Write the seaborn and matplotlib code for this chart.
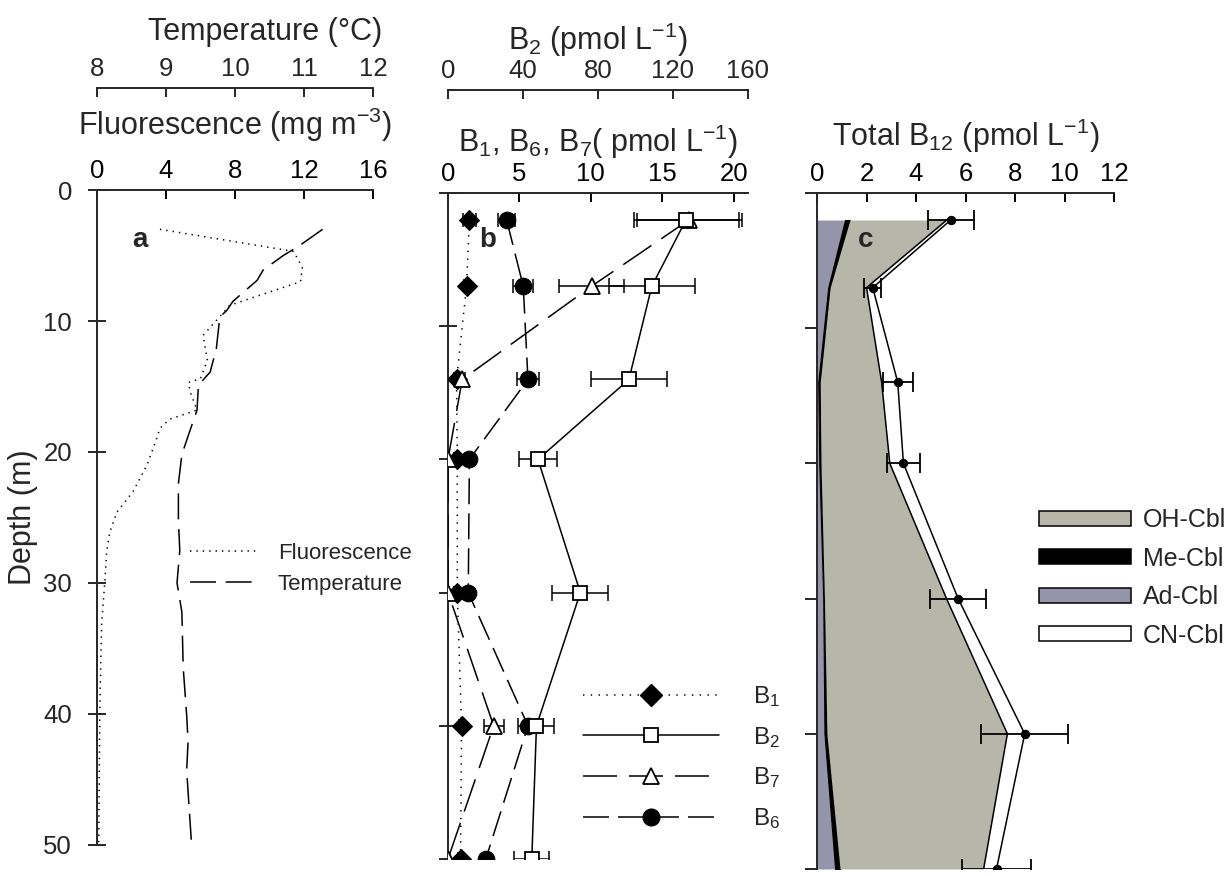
import numpy as np
import pandas as pd
import matplotlib.pyplot as plt
import seaborn as sns
from matplotlib.lines import Line2D
from matplotlib.patches import Patch

sns.set_style('ticks')
plt.rcParams['font.family'] = ['Liberation Sans', 'DejaVu Sans']
plt.rcParams['mathtext.fontset'] = 'custom'
plt.rcParams['mathtext.rm'] = 'Liberation Sans'
plt.rcParams['mathtext.it'] = 'Liberation Sans:italic'
plt.rcParams['mathtext.bf'] = 'Liberation Sans:bold'
plt.rcParams['lines.scale_dashes'] = False
plt.rcParams['axes.linewidth'] = 1.4

# --- panel a: CTD profiles ---
fluo_depth = [3.0, 4.6, 4.7, 5.9, 7.0, 8.8, 9.4, 11.1, 13.0, 14.4, 14.7, 15.4, 16.8,
              17.5, 18.2, 19.2, 21.0, 23.0, 24.6, 26.1, 27.5, 30.0, 33.1, 39.2, 49.9]
fluo = [3.65, 11.0, 11.4, 11.9, 11.8, 7.7, 7.3, 6.15, 6.4, 6.0, 5.3, 5.4, 5.8,
        4.2, 3.65, 3.4, 2.9, 2.1, 1.15, 0.75, 0.57, 0.45, 0.27, 0.17, 0.1]
temp_depth = [3.0, 4.3, 5.0, 6.1, 6.9, 8.5, 9.2, 9.7, 12.1, 13.9, 14.9, 16.8, 19.1,
              20.2, 22.4, 25.2, 27.5, 30.0, 32.2, 36.5, 40.1, 42.1, 44.3, 49.9]
temp = [11.27, 10.92, 10.70, 10.41, 10.32, 9.97, 9.88, 9.78, 9.73, 9.64, 9.47, 9.45, 9.30,
        9.23, 9.18, 9.18, 9.20, 9.16, 9.23, 9.25, 9.30, 9.32, 9.30, 9.37]

# --- panel b: B vitamins ---
depths = [2, 7, 14, 20, 30, 40, 50]
b1 = [1.5, 1.3, 0.6, 0.65, 0.65, 0.95, 0.88]
b1_err = [0.45, 0.2, 0.2, 0.2, 0.2, 0.2, 0.2]
b2 = [127, 108.7, 96.5, 48.0, 70.6, 47.2, 44.7]
b2_err = [28, 22.8, 20.3, 10, 15, 9.6, 9.3]
b7 = [16.9, 10.05, 1.0, 0.0, 0.0, 3.2, 0.0]
b7_err = [3.7, 2.26, 0.2, 0.1, 0.1, 0.7, 0.1]
b6 = [4.1, 5.27, 5.6, 1.5, 1.42, 5.6, 2.65]
b6_err = [0.6, 0.7, 0.77, 0.2, 0.2, 0.3, 0.2]

# --- panel c: B12 forms ---
ad_cbl = [1.13, 0.45, 0.05, 0.09, 0.25, 0.30, 0.73]
me_cbl = [0.20, 0.08, 0.08, 0.07, 0.05, 0.10, 0.20]
oh_cbl = [3.91, 1.47, 2.48, 2.78, 4.93, 7.29, 5.80]
cn_cbl = [0.16, 0.25, 0.65, 0.55, 0.47, 0.70, 0.52]
total_err = [0.93, 0.34, 0.6, 0.67, 1.13, 1.75, 1.4]

oh_color = '#b6b6a9'
ad_color = '#9494ab'
FS_TICK = 18.5
FS_TITLE = 22

fig = plt.figure(figsize=(12.29, 8.76), dpi=100)
ax_a = fig.add_axes([0.0789, 0.0354, 0.2246, 0.7477])
ax_b = fig.add_axes([0.3645, 0.0194, 0.2441, 0.7603])
ax_c = fig.add_axes([0.6648, 0.0080, 0.2417, 0.7717])


def style_main(ax, ydir, ylabels):
    for s in ['right', 'bottom']:
        ax.spines[s].set_visible(False)
    ax.set_ylim(50, 0)
    ax.set_yticks([0, 10, 20, 30, 40, 50])
    ax.xaxis.tick_top()
    ax.xaxis.set_label_position('top')
    ax.tick_params(axis='x', direction='in', length=6.5, width=1.4, pad=5,
                   labelsize=FS_TICK, colors='k', top=True, bottom=False,
                   labeltop=True, labelbottom=False)
    ax.tick_params(axis='y', direction=ydir, length=13 if ydir == 'inout' else 8.5,
                   width=1.4, pad=11.5, labelsize=FS_TICK, labelleft=ylabels)
    ax.grid(False)


def style_twin(ax, outward):
    for s in ['left', 'right', 'bottom']:
        ax.spines[s].set_visible(False)
    ax.spines['top'].set_position(('outward', outward))
    ax.tick_params(axis='x', direction='in', length=6.5, width=1.4, pad=5,
                   labelsize=FS_TICK)
    ax.grid(False)


# panel a
ax_t = ax_a.twiny()
style_main(ax_a, 'inout', True)
style_twin(ax_t, 73.4)
ax_a.set_xlim(0, 16)
ax_a.set_xticks([0, 4, 8, 12, 16])
sns.lineplot(x=fluo, y=fluo_depth, sort=False, estimator=None, color='k', lw=1.1,
             linestyle=(0, (1.0, 3.6)), ax=ax_a, legend=False)
ax_a.set_xlabel('Fluorescence (mg m$^{-3}$)', fontsize=FS_TITLE, labelpad=17.5)
ax_a.set_ylabel('Depth (m)', fontsize=FS_TITLE, labelpad=4)
ax_t.set_xlim(8, 12)
ax_t.set_xticks([8, 9, 10, 11, 12])
sns.lineplot(x=temp, y=temp_depth, sort=False, estimator=None, color='k', lw=1.1,
             linestyle=(0, (18.7, 7.0)), ax=ax_t, legend=False)
ax_t.set_xlabel('Temperature (°C)', fontsize=FS_TITLE, labelpad=12, x=0.61)
ax_a.set_ylim(50, 0)
ax_a.text(0.156, 0.924, 'a', transform=ax_a.transAxes, fontsize=20,
          fontweight='bold', ha='center', va='center')
leg_a = [Line2D([], [], color='k', lw=1.1, linestyle=(0, (1.0, 3.6))),
         Line2D([], [], color='k', lw=1.1, linestyle=(0, (18.7, 7.0)))]
fig.legend(leg_a, ['Fluorescence', 'Temperature'], loc='upper left',
           bbox_to_anchor=(0.1546, 0.380), frameon=False, fontsize=16,
           handlelength=3.1, handletextpad=0.85, labelspacing=0.45,
           borderpad=0, borderaxespad=0)

# panel b
ax_b2 = ax_b.twiny()
style_main(ax_b, 'inout', False)
style_twin(ax_b2, 74)
ax_b.set_xlim(0, 21)
ax_b.set_xticks([0, 5, 10, 15, 20])
ax_b.set_xlabel('B$_1$, B$_6$, B$_7$( pmol L$^{-1}$)', fontsize=FS_TITLE, labelpad=7.5)
ax_b2.set_xlim(0, 160)
ax_b2.set_xticks([0, 40, 80, 120, 160])
ax_b2.set_xlabel('B$_2$ (pmol L$^{-1}$)', fontsize=FS_TITLE, labelpad=7)

ls_b1 = (0, (1.0, 4.6))
ls_b7 = (0, (24.5, 8.6))
ls_b6 = (0, (18.7, 6.5))
ax_b.errorbar(b1, depths, xerr=b1_err, fmt='none', ecolor='k', elinewidth=1.1,
              capsize=5, capthick=1.1, zorder=2)
ax_b.errorbar(b7, depths, xerr=b7_err, fmt='none', ecolor='k', elinewidth=1.1,
              capsize=5, capthick=1.1, zorder=2)
ax_b.errorbar(b6, depths, xerr=b6_err, fmt='none', ecolor='k', elinewidth=1.1,
              capsize=5, capthick=1.1, zorder=2)
sns.lineplot(x=b1, y=depths, sort=False, estimator=None, color='k', lw=1.1,
             linestyle=ls_b1, marker='D', markersize=10, markerfacecolor='k',
             markeredgecolor='k', ax=ax_b, legend=False, zorder=3)
sns.lineplot(x=b7, y=depths, sort=False, estimator=None, color='k', lw=1.1,
             linestyle=ls_b7, marker='^', markersize=12, markerfacecolor='white',
             markeredgecolor='k', markeredgewidth=1.3, ax=ax_b, legend=False, zorder=3)
sns.lineplot(x=b6, y=depths, sort=False, estimator=None, color='k', lw=1.1,
             linestyle=ls_b6, marker='o', markersize=12, markerfacecolor='k',
             markeredgecolor='k', ax=ax_b, legend=False, zorder=3)
ax_b2.errorbar(b2, depths, xerr=b2_err, fmt='none', ecolor='k', elinewidth=1.1,
               capsize=6, capthick=1.1, zorder=2)
sns.lineplot(x=b2, y=depths, sort=False, estimator=None, color='k', lw=1.1,
             marker='s', markersize=10.5, markerfacecolor='white',
             markeredgecolor='k', markeredgewidth=1.3, ax=ax_b2, legend=False, zorder=3)
ax_b.set_ylim(50, 0)
ax_b.text(0.133, 0.929, 'b', transform=ax_b.transAxes, fontsize=20,
          fontweight='bold', ha='center', va='center')
leg_b = [Line2D([], [], color='k', lw=1.1, linestyle=ls_b1, marker='D', ms=11),
         Line2D([], [], color='k', lw=1.1, marker='s', ms=10.5, mfc='white', mew=1.3),
         Line2D([], [], color='k', lw=1.1, linestyle=ls_b7, marker='^', ms=12,
                mfc='white', mew=1.3),
         Line2D([], [], color='k', lw=1.1, linestyle=ls_b6, marker='o', ms=12)]
fig.legend(leg_b, ['B$_1$', 'B$_2$', 'B$_7$', 'B$_6$'], loc='upper left',
           bbox_to_anchor=(0.4744, 0.219), frameon=False, fontsize=17.5,
           handlelength=5.6, handletextpad=1.4, labelspacing=0.65, numpoints=1,
           borderpad=0, borderaxespad=0)

# panel c
style_main(ax_c, 'out', False)
ax_c.set_xlim(0, 12)
ax_c.set_xticks([0, 2, 4, 6, 8, 10, 12])
ax_c.set_xlabel('Total B$_{12}$ (pmol L$^{-1}$)', fontsize=FS_TITLE, labelpad=11.5)
d = np.array(depths)
s_ad = np.array(ad_cbl)
s_me = s_ad + np.array(me_cbl)
s_oh = s_me + np.array(oh_cbl)
s_tot = s_oh + np.array(cn_cbl)
ax_c.fill_betweenx(d, 0, s_ad, color=ad_color, lw=0)
ax_c.fill_betweenx(d, s_ad, s_me, color='k', lw=0.8)
ax_c.fill_betweenx(d, s_me, s_oh, color=oh_color, lw=0)
ax_c.fill_betweenx(d, s_oh, s_tot, color='white', lw=0)
sns.lineplot(x=s_oh, y=d, sort=False, estimator=None, color='k', lw=1.1,
             ax=ax_c, legend=False)
ax_c.errorbar(s_tot, d, xerr=total_err, fmt='none', ecolor='k', elinewidth=1.3,
              capsize=7, capthick=1.3, zorder=3)
sns.lineplot(x=s_tot, y=d, sort=False, estimator=None, color='k', lw=1.1,
             marker='o', markersize=6, markeredgecolor='k', ax=ax_c, legend=False,
             zorder=4)
ax_c.set_ylim(50, 0)
ax_c.text(0.165, 0.93, 'c', transform=ax_c.transAxes, fontsize=20,
          fontweight='bold', ha='center', va='center')
leg_c = [Patch(facecolor=oh_color, edgecolor='k', lw=1.1),
         Patch(facecolor='k', edgecolor='k', lw=1.1),
         Patch(facecolor=ad_color, edgecolor='k', lw=1.1),
         Patch(facecolor='white', edgecolor='k', lw=1.1)]
fig.legend(leg_c, ['OH-Cbl', 'Me-Cbl', 'Ad-Cbl', 'CN-Cbl'], loc='upper left',
           bbox_to_anchor=(0.8454, 0.420), frameon=False, fontsize=18,
           handlelength=3.7, handleheight=0.55, handletextpad=0.45,
           labelspacing=0.58, borderpad=0, borderaxespad=0)

fig.savefig('out.png', dpi=100)
